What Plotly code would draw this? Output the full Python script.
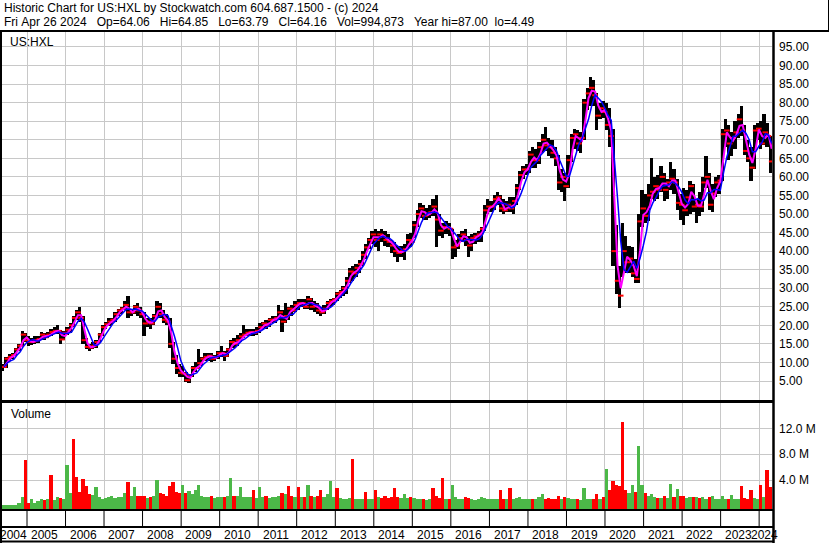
import pandas as pd
import plotly.graph_objects as go

# ---------------- data (monthly, May 2004 .. Apr 2024) ----------------
months = pd.date_range("2004-05-01", "2024-04-01", freq="MS")

high = [
    9.6, 11.5, 12.3, 12.5, 14.0, 15.0, 18.5, 18.0,                          # 2004
    17.0, 16.5, 17.0, 17.2, 18.2, 18.0, 18.3, 19.0, 19.5, 20.0, 18.8, 18.5,  # 2005
    19.5, 20.5, 22.5, 24.0, 25.0, 22.5, 16.5, 15.0, 15.5, 16.0, 18.0, 20.0,  # 2006
    21.0, 22.0, 22.0, 23.5, 24.5, 25.0, 26.5, 28.0, 24.5, 25.5, 26.0, 25.0,  # 2007
    23.5, 22.0, 22.0, 23.0, 26.5, 26.0, 24.0, 23.0, 22.0, 15.5, 12.0, 9.5,   # 2008
    9.0, 7.5, 7.0, 9.0, 10.0, 13.5, 11.5, 12.5, 12.5, 12.5, 12.0, 13.0,      # 2009
    14.5, 13.0, 14.0, 16.0, 16.5, 17.5, 18.0, 20.0, 19.0, 19.0, 19.0, 19.5,  # 2010
    20.5, 21.0, 21.5, 22.0, 22.5, 22.5, 25.5, 24.0, 26.0, 25.0, 25.5, 26.5,  # 2011
    27.0, 27.0, 27.0, 28.0, 27.5, 26.5, 26.0, 25.0, 25.5, 26.5, 27.0, 27.5,  # 2012
    29.0, 29.5, 30.5, 33.0, 35.5, 36.0, 36.5, 37.5, 40.0, 42.0, 43.5, 45.5,  # 2013
    46.0, 45.5, 46.0, 45.5, 44.5, 43.0, 42.5, 41.5, 41.5, 42.0, 44.5, 45.0,  # 2014
    48.0, 51.0, 53.0, 52.5, 51.5, 52.5, 54.0, 55.0, 50.0, 47.5, 48.0, 47.5,  # 2015
    46.0, 43.0, 44.5, 45.5, 46.0, 44.0, 44.5, 45.0, 45.5, 46.5, 52.5, 54.0,  # 2016
    53.5, 55.0, 56.0, 55.0, 54.0, 53.5, 54.5, 54.5, 58.0, 61.5, 63.0, 63.5,  # 2017
    67.0, 68.0, 67.5, 69.5, 71.5, 73.5, 70.5, 70.0, 68.0, 66.0, 62.0, 61.0,  # 2018
    66.0, 71.5, 73.0, 72.5, 72.0, 81.0, 84.0, 87.0, 86.0, 82.5, 80.0, 80.5,  # 2019
    80.0, 78.5, 73.0, 47.0, 36.0, 47.5, 44.0, 41.5, 41.0, 38.0, 50.0, 56.5,  # 2020
    55.5, 58.0, 65.0, 60.0, 60.5, 63.0, 61.0, 59.5, 64.0, 62.0, 59.5, 55.5,  # 2021
    57.0, 56.5, 59.0, 58.0, 54.0, 56.0, 60.0, 65.5, 61.0, 58.0, 60.0, 60.5,  # 2022
    73.0, 75.5, 74.0, 72.0, 75.0, 77.0, 79.0, 74.0, 70.0, 68.0, 74.0, 74.5,  # 2023
    75.0, 77.0, 74.5, 71.0,                                                  # 2024
]
low = [
    7.8, 8.5, 10.5, 11.0, 11.8, 13.0, 14.5, 15.5,
    14.5, 14.8, 15.0, 15.2, 16.0, 16.0, 16.5, 17.0, 17.6, 17.8, 15.0, 16.0,
    17.5, 18.0, 19.5, 21.5, 21.0, 15.0, 13.5, 13.2, 13.5, 14.0, 15.2, 17.0,
    19.0, 19.8, 20.0, 21.0, 22.5, 23.0, 24.0, 22.0, 22.5, 23.0, 22.5, 22.0,
    17.0, 19.5, 19.0, 20.0, 22.0, 22.0, 20.5, 20.0, 14.0, 9.5, 7.0, 6.0,
    6.0, 4.6, 4.49, 6.0, 7.5, 8.5, 9.0, 10.5, 10.5, 10.0, 10.5, 11.0,
    11.5, 10.5, 11.5, 13.0, 14.0, 14.5, 15.5, 16.5, 17.0, 17.0, 17.0, 17.5,
    18.0, 19.0, 19.0, 19.5, 20.5, 20.5, 21.5, 18.2, 20.5, 21.5, 22.5, 23.5,
    24.0, 25.0, 24.5, 24.5, 24.0, 23.5, 23.0, 22.5, 23.0, 24.0, 25.0, 25.5,
    26.5, 27.5, 28.0, 28.5, 31.5, 32.0, 33.0, 34.0, 36.0, 38.0, 40.5, 42.0,
    41.0, 40.0, 42.5, 41.5, 41.0, 39.5, 38.5, 37.0, 38.5, 37.5, 40.5, 41.0,
    43.5, 46.5, 49.0, 48.5, 48.5, 49.0, 49.5, 41.0, 44.0, 43.5, 44.5, 44.0,
    37.8, 38.5, 40.5, 42.5, 41.5, 38.5, 40.0, 42.0, 42.5, 42.5, 45.5, 50.0,
    50.5, 51.0, 52.5, 50.5, 50.0, 50.5, 50.5, 50.0, 52.5, 56.5, 59.5, 60.5,
    61.0, 62.5, 62.5, 63.5, 66.5, 67.0, 65.5, 65.0, 63.0, 56.5, 56.0, 53.5,
    57.0, 64.0, 67.5, 67.0, 66.5, 70.0, 78.0, 79.0, 79.0, 72.5, 75.5, 76.0,
    72.5, 68.0, 36.0, 28.5, 24.7, 33.0, 34.0, 34.0, 33.0, 31.5, 31.5, 46.5,
    47.5, 48.0, 54.0, 53.5, 54.0, 56.0, 53.5, 54.0, 56.5, 55.5, 51.0, 48.5,
    47.0, 49.5, 50.0, 50.5, 47.5, 49.5, 50.5, 57.0, 51.0, 50.5, 54.5, 55.5,
    59.0, 68.0, 64.5, 65.5, 67.5, 70.5, 71.0, 66.0, 64.0, 59.0, 62.0, 70.0,
    67.5, 68.5, 68.0, 61.0,
]
close = [
    8.8, 11.0, 11.5, 12.0, 13.5, 14.5, 17.5, 16.0,
    15.5, 15.6, 16.0, 16.3, 17.5, 16.8, 17.5, 18.2, 18.5, 18.5, 16.2, 18.0,
    18.8, 20.0, 22.0, 23.5, 22.0, 16.0, 14.2, 14.0, 14.5, 15.5, 17.5, 19.5,
    20.3, 21.0, 21.5, 23.0, 24.0, 24.5, 25.5, 23.5, 23.5, 25.0, 24.0, 23.0,
    20.5, 21.0, 20.5, 22.5, 25.0, 23.0, 21.5, 21.0, 15.0, 11.0, 8.5, 7.2,
    7.0, 5.2, 6.5, 8.5, 8.5, 9.8, 11.0, 11.5, 11.8, 11.0, 11.5, 12.5,
    12.5, 11.8, 13.5, 15.5, 15.0, 16.0, 17.0, 17.5, 18.0, 18.2, 18.0, 18.5,
    19.5, 20.5, 20.0, 21.5, 21.5, 22.0, 23.5, 21.0, 22.5, 24.5, 24.0, 25.5,
    26.0, 26.0, 25.0, 27.0, 25.0, 25.5, 24.0, 23.5, 24.5, 26.0, 26.5, 27.0,
    28.5, 29.0, 30.0, 32.0, 34.5, 34.0, 35.5, 36.5, 39.0, 41.0, 43.0, 44.5,
    43.0, 44.5, 44.0, 43.0, 42.5, 41.5, 40.0, 39.5, 40.0, 40.5, 43.0, 42.5,
    47.0, 50.0, 51.5, 49.5, 50.0, 50.5, 52.0, 48.5, 45.5, 46.5, 46.5, 46.0,
    41.0, 41.5, 43.5, 44.5, 43.0, 41.5, 43.5, 44.0, 44.5, 46.0, 51.0, 52.0,
    52.0, 54.0, 54.5, 51.5, 51.0, 52.5, 51.5, 53.5, 57.0, 60.5, 62.0, 62.0,
    66.0, 64.5, 64.5, 68.0, 70.0, 68.5, 68.0, 66.5, 65.0, 58.5, 60.0, 57.5,
    64.5, 70.5, 71.5, 69.0, 70.5, 80.0, 82.5, 84.0, 82.0, 76.5, 78.5, 77.5,
    74.0, 71.0, 40.0, 32.0, 28.0, 40.0, 37.0, 38.0, 34.0, 32.5, 48.0, 51.5,
    49.5, 55.0, 56.0, 57.5, 56.5, 60.0, 56.5, 58.5, 59.5, 58.5, 53.0, 52.5,
    51.0, 54.5, 57.5, 52.0, 52.5, 52.0, 58.5, 60.0, 52.5, 55.5, 58.5, 59.0,
    71.5, 72.5, 69.0, 70.5, 72.0, 75.5, 72.5, 67.0, 65.0, 62.5, 72.5, 73.0,
    69.0, 72.0, 71.0, 64.16,
]
volume_m = [
    0.15, 0.2, 0.15, 0.2, 0.2, 0.4, 1.3, 7.1,
    0.4, 1.0, 0.5, 0.7, 1.0, 0.9, 1.0, 4.8, 0.9, 1.3, 1.2, 1.0,
    6.3, 2.0, 10.3, 4.5, 2.1, 4.1, 3.1, 1.8, 1.7, 2.9, 1.3, 1.0,
    1.2, 1.3, 1.5, 1.2, 1.4, 1.3, 2.0, 3.7, 1.5, 2.9, 1.6, 1.5,
    1.5, 1.2, 1.3, 1.6, 4.0, 2.0, 1.8, 1.5, 3.0, 3.7, 2.2, 2.0,
    3.3, 2.0, 2.3, 1.8, 2.5, 3.3, 1.6, 1.4, 1.3, 1.5, 1.2, 1.3,
    1.4, 1.3, 1.5, 4.3, 1.6, 1.5, 2.9, 1.4, 1.3, 1.4, 2.5, 1.2,
    2.9, 1.3, 1.5, 1.2, 1.3, 1.4, 1.6, 2.0, 1.8, 3.0, 1.5, 1.4,
    2.9, 1.3, 1.4, 3.3, 1.5, 1.4, 1.6, 2.5, 1.4, 1.8, 3.8, 1.3,
    2.8, 1.2, 1.0, 1.1, 1.2, 7.2, 1.0, 1.1, 1.0, 2.2, 1.1, 1.0,
    2.5, 1.3, 1.2, 1.5, 1.2, 1.3, 2.7, 1.3, 1.2, 1.8, 1.2, 1.4,
    1.2, 1.0, 1.1, 1.0, 0.9, 1.0, 2.8, 1.5, 1.2, 4.3, 1.1, 1.0,
    3.2, 1.3, 1.0, 1.1, 1.4, 1.2, 1.0, 0.9, 1.0, 1.3, 1.2, 1.0,
    1.1, 1.0, 1.0, 2.4, 1.0, 1.1, 2.7, 1.0, 1.2, 1.3, 1.0, 1.1,
    1.0, 1.1, 1.0, 1.3, 1.9, 1.0, 1.2, 1.0, 1.0, 1.5, 1.1, 1.3,
    1.2, 1.0, 1.0, 1.1, 0.9, 2.7, 1.1, 1.0, 1.0, 1.9, 1.0, 1.4,
    5.7, 2.5, 3.8, 3.3, 3.0, 13.0, 2.5, 2.0, 3.2, 2.2, 9.3, 3.3,
    2.0, 1.6, 1.8, 1.4, 1.2, 1.2, 1.5, 1.2, 3.4, 1.3, 2.6, 1.5,
    1.5, 1.2, 1.3, 1.4, 1.3, 1.2, 1.4, 1.1, 1.3, 1.5, 1.0, 1.1,
    1.6, 1.0, 1.1, 1.7, 1.0, 1.1, 3.0, 1.2, 1.1, 2.5, 1.2, 1.0,
    3.2, 1.4, 5.5, 2.9,
]
# colours of the big volume spikes (others follow the month's close)
spike_colour = {
    "2005-08": "down", "2006-03": "down", "2006-04": "down", "2009-01": "up",
    "2011-10": "down", "2012-01": "down", "2013-01": "down", "2013-10": "down",
    "2015-07": "down", "2015-10": "down", "2016-01": "up", "2020-01": "up",
    "2020-06": "down", "2020-09": "up", "2021-11": "up",
}
price_ticks = [5 * i for i in range(1, 20)]
vol_ticks = [4, 8, 12]
years = list(range(2004, 2025))

header1 = "Historic Chart for US:HXL by Stockwatch.com 604.687.1500 - (c) 2024"
header2 = ("Fri Apr 26 2024   Op=64.06   Hi=64.85   Lo=63.79   Cl=64.16   "
           "Vol=994,873   Year hi=87.00  lo=4.49")

# ---------------- derived series (moving averages of the closes) ----------------
centers = months + pd.Timedelta(days=15)
ends = months + pd.Timedelta(days=28)
cs = pd.Series(close)
ma_short = (cs + cs.shift(1).fillna(cs)) / 2
ma_long = cs.rolling(4, min_periods=1).mean()

GREEN = "#4CB848"
RED = "#FF0000"
vol_colours = []
for i, m in enumerate(months):
    key = m.strftime("%Y-%m")
    up = close[i] >= (close[i - 1] if i else close[i])
    if key in spike_colour:
        up = spike_colour[key] == "up"
    vol_colours.append(GREEN if up else RED)

# ---------------- geometry ----------------
W, H = 830, 543
ML, MR, MT, MB = 2, 58, 32, 34
PW, PH = W - ML - MR, H - MT - MB


def px(x):
    return (x - ML) / PW


def py(y):
    return (H - MB - y) / PH


PRICE_RANGE = [-0.12, 99.04]
VOL_RANGE = [-0.49, 15.92]
X_RANGE = [pd.Timestamp("2004-05-09"), pd.Timestamp("2024-05-02")]
MONTH_MS = 31 * 86400000
FONT = "Liberation Sans, Arial, sans-serif"

fig = go.Figure()
fig.add_trace(go.Bar(
    x=centers, y=[h - l for h, l in zip(high, low)], base=low, width=MONTH_MS,
    marker=dict(color="black", line=dict(width=0)), xaxis="x", yaxis="y",
    hoverinfo="skip"))
fig.add_trace(go.Scatter(
    x=ends, y=close, mode="markers", xaxis="x", yaxis="y",
    marker=dict(symbol="line-ew", size=4, line=dict(width=2, color=RED))))
fig.add_trace(go.Scatter(
    x=ends, y=ma_short, mode="lines", line=dict(color="#FF00FF", width=2),
    xaxis="x", yaxis="y"))
fig.add_trace(go.Scatter(
    x=ends, y=ma_long, mode="lines", line=dict(color="#0000FF", width=1.5),
    xaxis="x", yaxis="y"))
fig.add_trace(go.Bar(
    x=centers, y=[v - VOL_RANGE[0] for v in volume_m], base=VOL_RANGE[0],
    width=MONTH_MS, marker=dict(color=vol_colours, line=dict(width=0)),
    xaxis="x2", yaxis="y2"))

grid = "#C8C8C8"
year_starts = [pd.Timestamp(f"{y}-01-01") for y in years[1:]]
common_x = dict(type="date", range=X_RANGE, tickvals=year_starts, showticklabels=False,
                showgrid=True, gridcolor=grid, gridwidth=1, ticks="", zeroline=False,
                showline=False, fixedrange=True)

shapes = []


def hline(y, x0, x1, w):
    shapes.append(dict(type="line", xref="paper", yref="paper", x0=px(x0), x1=px(x1),
                       y0=py(y), y1=py(y), line=dict(color="black", width=w)))


def vline(x, y0, y1, w):
    shapes.append(dict(type="line", xref="paper", yref="paper", x0=px(x), x1=px(x),
                       y0=py(y0), y1=py(y1), line=dict(color="black", width=w)))


hline(31, 0, 829, 2)        # header bottom
vline(828.5, 0, 31, 1)      # header right
vline(1, 31, 543, 2)        # left border
hline(401.5, 0, 774, 3)     # price / volume separator
vline(773.5, 31, 543, 2.5)  # right axis line
hline(510, 0, 774, 2)       # volume bottom
hline(527, 0, 774, 2)       # strip bottom
hline(541.5, 0, 774, 2)     # bottom border
for ys in year_starts:
    shapes.append(dict(type="line", xref="x", yref="paper", x0=ys, x1=ys,
                       y0=py(527), y1=py(510), line=dict(color="black", width=1)))

annotations = [
    dict(text=header1, x=px(1.5), y=py(7.5), xanchor="left", yanchor="middle"),
    dict(text=header2.replace(" ", "\u00a0"), x=px(1.5), y=py(22), xanchor="left", yanchor="middle"),
    dict(text="US:HXL", x=px(8), y=py(42), xanchor="left", yanchor="middle"),
    dict(text="Volume", x=px(9), y=py(413.5), xanchor="left", yanchor="middle"),
]
for a in annotations:
    a.update(xref="paper", yref="paper", showarrow=False,
             font=dict(family=FONT, size=12, color="black"))

# year labels centred in each visible year interval
for y in years:
    a0 = max(pd.Timestamp(f"{y}-01-01"), X_RANGE[0])
    a1 = min(pd.Timestamp(f"{y + 1}-01-01"), X_RANGE[1])
    mid = a0 + (a1 - a0) / 2 - pd.Timedelta(days=14)
    annotations.append(dict(text=str(y), x=mid, xref="x", y=py(534.5), yref="paper",
                            xanchor="center", yanchor="middle", showarrow=False,
                            font=dict(family=FONT, size=12, color="black")))

fig.update_layout(
    width=W, height=H, margin=dict(l=ML, r=MR, t=MT, b=MB),
    paper_bgcolor="white", plot_bgcolor="white", showlegend=False,
    font=dict(family=FONT, size=12, color="black"),
    xaxis=dict(domain=[0, 1], anchor="y", **common_x),
    xaxis2=dict(domain=[0, 1], anchor="y2", matches="x", **common_x),
    yaxis=dict(domain=[py(400), 1], range=PRICE_RANGE, side="right", anchor="x",
               tickvals=price_ticks, ticktext=[f"{v:.2f}" for v in price_ticks],
               showgrid=True, gridcolor=grid, gridwidth=1, zeroline=False, ticks="",
               ticklabelstandoff=6, tickfont=dict(family=FONT, size=12, color="black"),
               fixedrange=True),
    yaxis2=dict(domain=[0, py(403)], range=VOL_RANGE, side="right", anchor="x2",
                tickvals=vol_ticks, ticktext=[f"{v:.1f} M" for v in vol_ticks],
                showgrid=True, gridcolor=grid, gridwidth=1, zeroline=False, ticks="",
                ticklabelstandoff=6, tickfont=dict(family=FONT, size=12, color="black"),
                fixedrange=True),
    shapes=shapes, annotations=annotations, bargap=0,
)

fig.write_html("out.html", config={"displayModeBar": False},
               post_script="document.body.style.margin='0';")
